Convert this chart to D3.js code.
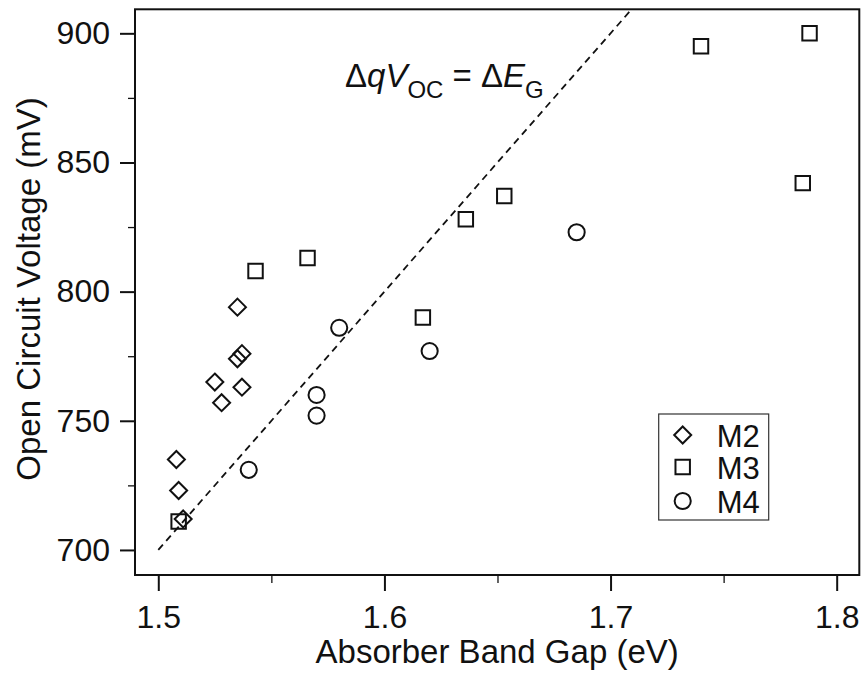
<!DOCTYPE html>
<html>
<head>
<meta charset="utf-8">
<script src="https://cdn.jsdelivr.net/npm/d3@7"></script>
<style>
  html, body { margin: 0; padding: 0; background: #fff; }
  svg { display: block; }
</style>
</head>
<body>
<div id="chart"></div>
<script>
// Absorber band gap (eV) vs open circuit voltage (mV)
const m2Gap = [1.535, 1.537, 1.535, 1.525, 1.537, 1.528, 1.508, 1.509, 1.511];
const m2Voc = [794, 776, 774, 765, 763, 757, 735, 723, 712];

const m3Gap = [1.543, 1.566, 1.509, 1.617, 1.636, 1.653, 1.740, 1.788, 1.785];
const m3Voc = [808, 813, 711, 790, 828, 837, 895, 900, 842];

const m4Gap = [1.580, 1.540, 1.570, 1.570, 1.620, 1.685];
const m4Voc = [786, 731, 760, 752, 777, 823];

// dashed guide: ΔqV_OC = ΔE_G, slope 1 V/eV through (1.5 eV, 700 mV)
const guideGap = [1.5, 1.71];
const guideVoc = [700, 910];

const xTicks = [1.5, 1.6, 1.7, 1.8];
const xMinor = [1.55, 1.65, 1.75];
const yTicks = [700, 750, 800, 850, 900];
const yMinor = [725, 775, 825, 875];

const seriesNames = ['M2', 'M3', 'M4'];
const seriesShapes = ['diamond', 'square', 'circle'];

const totalW = 862, totalH = 677;
const margin = { top: 9.3, right: 2.7, bottom: 102, left: 135 };
const W = totalW - margin.left - margin.right;
const H = totalH - margin.top - margin.bottom;
const FONT = '"Liberation Sans", Arial, Helvetica, sans-serif';
const INK = '#111';

const svg = d3.select('#chart').append('svg')
    .attr('width', totalW).attr('height', totalH);
const g = svg.append('g').attr('transform', `translate(${margin.left},${margin.top})`);

const x = d3.scaleLinear().domain([1.4897, 1.81]).range([0, W]);
const y = d3.scaleLinear().domain([690.3, 909.3]).range([H, 0]);

// marker path builders (centred at 0,0)
function shapePath(shape, s) {
    if (shape === 'diamond') return `M0,${-s}L${s},0L0,${s}L${-s},0Z`;
    if (shape === 'square') { const h = s * 0.85; return `M${-h},${-h}H${h}V${h}H${-h}Z`; }
    const p = d3.path(); p.arc(0, 0, s * 0.95, 0, 2 * Math.PI); p.closePath(); return p.toString();
}

// clip
svg.append('defs').append('clipPath').attr('id', 'plotClip')
    .append('rect').attr('width', W).attr('height', H);

// guide line
g.append('path')
    .datum(d3.zip(guideGap, guideVoc))
    .attr('clip-path', 'url(#plotClip)')
    .attr('fill', 'none').attr('stroke', INK).attr('stroke-width', 1.8)
    .attr('stroke-dasharray', '7,5')
    .attr('d', d3.line().x(d => x(d[0])).y(d => y(d[1])));

// annotation
const ann = g.append('text')
    .attr('x', 345 - margin.left).attr('y', 87.5 - margin.top)
    .attr('font-family', FONT).attr('font-size', 33).attr('fill', INK);
ann.append('tspan').text('Δ');
ann.append('tspan').attr('font-style', 'italic').text('qV');
ann.append('tspan').attr('font-size', 24).attr('dy', 11).text('OC');
ann.append('tspan').attr('dy', -11).text(' = Δ');
ann.append('tspan').attr('font-style', 'italic').text('E');
ann.append('tspan').attr('font-size', 24).attr('dy', 11).text('G');

// data
const series = [
    { gap: m2Gap, voc: m2Voc },
    { gap: m3Gap, voc: m3Voc },
    { gap: m4Gap, voc: m4Voc }
];
series.forEach((s, i) => {
    g.append('g').selectAll('path')
        .data(d3.zip(s.gap, s.voc))
        .join('path')
        .attr('transform', d => `translate(${x(d[0])},${y(d[1])})`)
        .attr('d', shapePath(seriesShapes[i], 8.5))
        .attr('fill', 'none').attr('stroke', INK).attr('stroke-width', 2);
});

// frame
g.append('rect').attr('width', W).attr('height', H)
    .attr('fill', 'none').attr('stroke', INK).attr('stroke-width', 2);

// axes
function styleAxis(ax) {
    ax.select('.domain').remove();
    ax.selectAll('line').attr('stroke', INK).attr('stroke-width', 2);
    ax.selectAll('text').attr('font-family', FONT).attr('font-size', 32).attr('fill', INK);
}
g.append('g').attr('transform', `translate(0,${H})`)
    .call(d3.axisBottom(x).tickValues(xTicks).tickSize(16).tickPadding(14).tickFormat(d3.format('.1f')))
    .call(styleAxis);
g.append('g').attr('transform', `translate(0,${H})`)
    .call(d3.axisBottom(x).tickValues(xMinor).tickSize(8).tickFormat(''))
    .call(styleAxis)
    .call(ax => ax.selectAll('line').attr('stroke-width', 1.3));
g.append('g')
    .call(d3.axisLeft(y).tickValues(yTicks).tickSize(15).tickPadding(10))
    .call(styleAxis);
g.append('g')
    .call(d3.axisLeft(y).tickValues(yMinor).tickSize(7).tickFormat(''))
    .call(styleAxis)
    .call(ax => ax.selectAll('line').attr('stroke-width', 1.3));

// axis titles
svg.append('text')
    .attr('x', margin.left + W / 2 - 0).attr('y', 663)
    .attr('text-anchor', 'middle')
    .attr('font-family', FONT).attr('font-size', 33).attr('fill', INK)
    .text('Absorber Band Gap (eV)');
svg.append('text')
    .attr('transform', 'rotate(-90)')
    .attr('x', -289).attr('y', 40)
    .attr('text-anchor', 'middle')
    .attr('font-family', FONT).attr('font-size', 33).attr('fill', INK)
    .text('Open Circuit Voltage (mV)');

// legend
const lg = svg.append('g').attr('transform', 'translate(658.7,414)');
lg.append('rect').attr('width', 110).attr('height', 106)
    .attr('fill', '#fff').attr('stroke', '#333').attr('stroke-width', 1.2);
const rowY = [21, 53, 87];
seriesNames.forEach((name, i) => {
    lg.append('path')
        .attr('transform', `translate(24,${rowY[i]})`)
        .attr('d', shapePath(seriesShapes[i], i === 1 ? 8.5 : 8.5))
        .attr('fill', 'none').attr('stroke', INK).attr('stroke-width', 2);
    lg.append('text')
        .attr('x', 58).attr('y', rowY[i] + 11.5)
        .attr('font-family', FONT).attr('font-size', 31).attr('fill', INK)
        .text(name);
});
</script>
</body>
</html>
